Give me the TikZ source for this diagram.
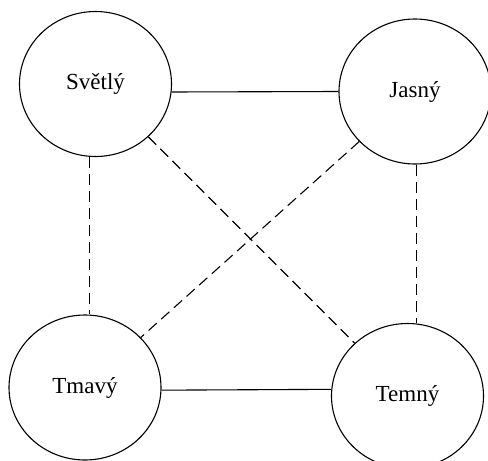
\documentclass[tikz,border=0pt]{standalone}
\usepackage{fontspec}
\setmainfont{Liberation Serif}
\usetikzlibrary{shapes.geometric}
\begin{document}
\begin{tikzpicture}[x=1pt,y=-1pt,
  term/.style={draw, ellipse, line width=1.1pt, minimum width=152pt, minimum height=145pt,
    inner sep=0pt, font=\fontsize{23}{26}\selectfont},
  link/.style={line width=1.1pt},
  dlink/.style={line width=1.1pt, dash pattern=on 11pt off 6pt}]
\useasboundingbox (0,0) rectangle (488,461);
\node[term] (S) at (95.5,84)  {Světlý};
\node[term] (J) at (415,91.5) {Jasný};
\node[term] (T) at (85,387.5) {Tmavý};
\node[term] (M) at (407.5,396) {Temný};
% solid links
\draw[link] (S.-6) -- (J.west);
\draw[link] (T.-2) -- (M.175);
% dashed links
\draw[dlink] (S.-95) -- (S.-95 |- T.north);
\draw[dlink] (J.-89) -- (J.-89 |- M.north);
\draw[dlink] (S) -- (M);
\draw[dlink] (J) -- (T);
\end{tikzpicture}
\end{document}
